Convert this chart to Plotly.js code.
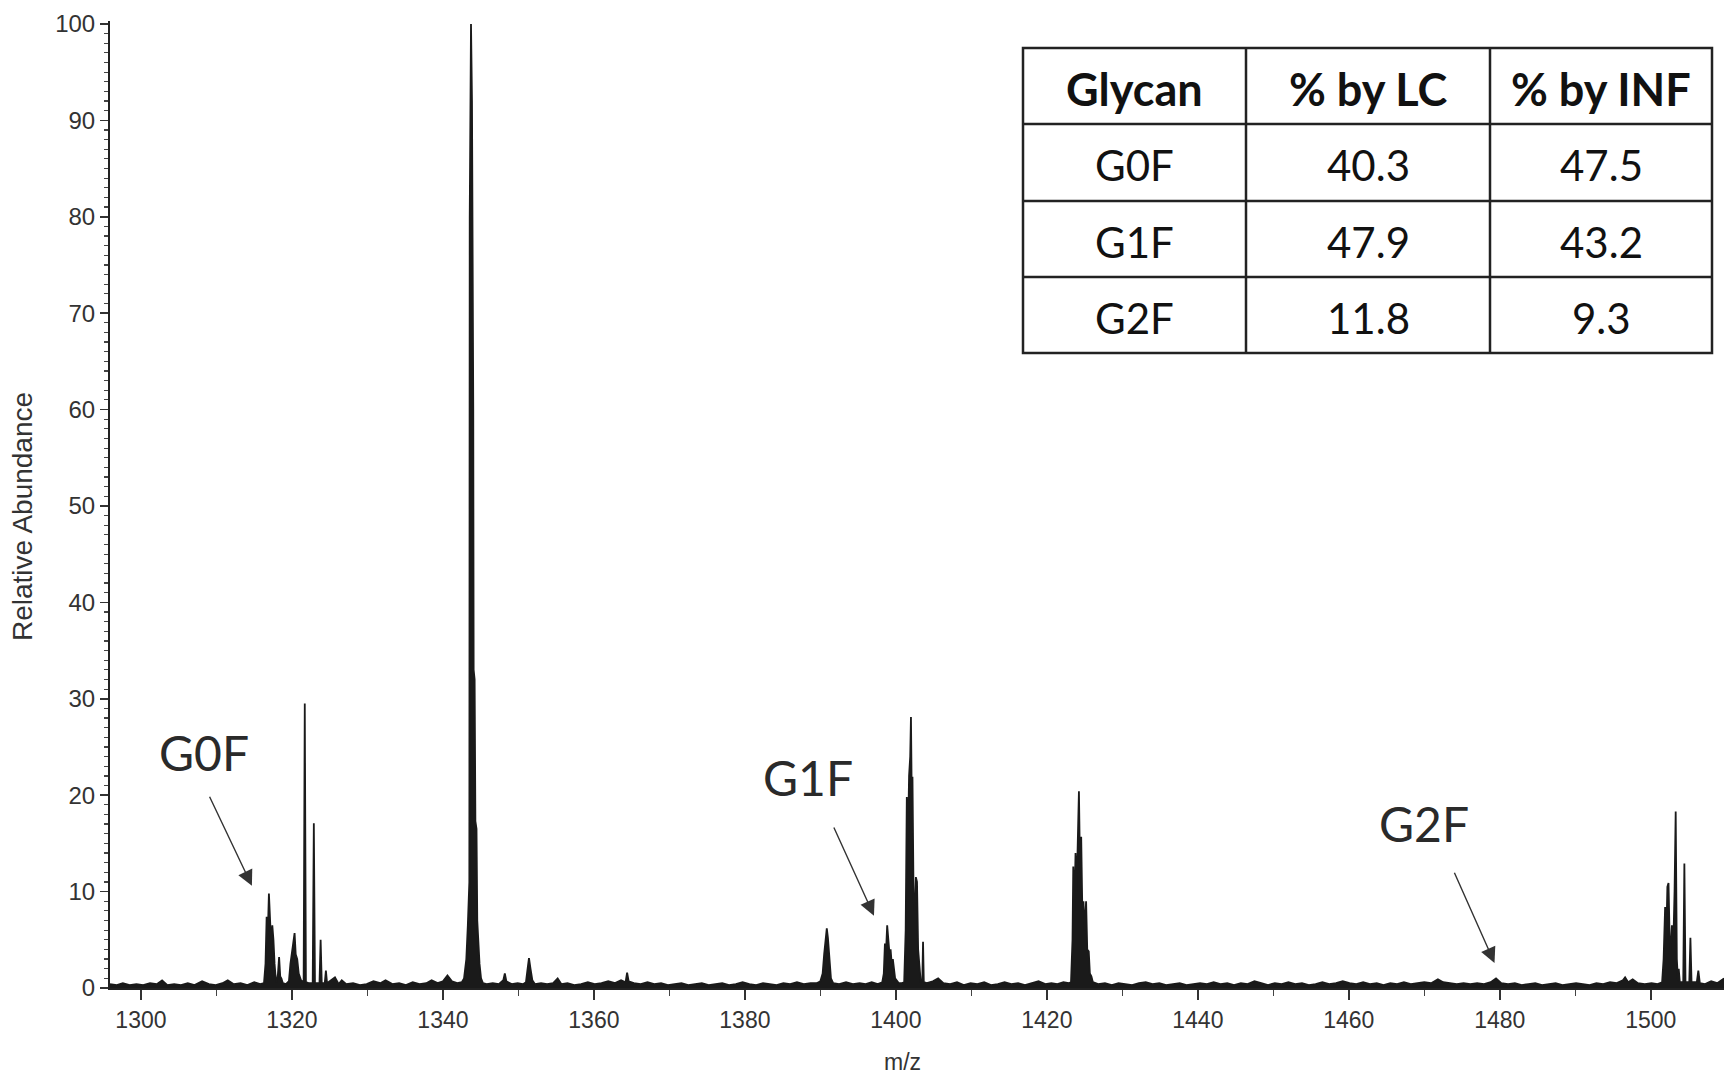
<!DOCTYPE html>
<html>
<head>
<meta charset="utf-8">
<script src="https://cdn.plot.ly/plotly-3.0.1.min.js"></script>
<style>
  html, body { margin: 0; padding: 0; background: #ffffff; }
  #chart { width: 1724px; height: 1077px; }
</style>
</head>
<body>
<div id="chart"></div>
<script>
// ---------- Spectrum data: [m/z, relative abundance] ----------
const baselineA = [[1295.9,0.4],[1296.8,0.3],[1297.6,0.5],[1298.5,0.3],[1299.4,0.4],[1300.3,0.3],[1301.2,0.5],[1302.1,0.4],[1302.8,0.8],[1303.5,0.3],[1304.4,0.4],[1305.3,0.3],[1306.2,0.5],[1307.1,0.3],[1308.1,0.7],[1309.0,0.4],[1309.9,0.3],[1310.8,0.5],[1311.5,0.8],[1312.3,0.4],[1313.2,0.5],[1314.1,0.3],[1315.0,0.6],[1315.8,0.4],[1316.3,0.5]];
const g0fCluster = [[1316.5,2.5],[1316.65,7.4],[1316.8,5.5],[1316.95,9.8],[1317.1,6.0],[1317.25,4.5],[1317.4,6.5],[1317.55,5.0],[1317.7,2.5],[1317.85,1.0],[1318.0,0.6],[1318.15,1.5],[1318.3,3.2],[1318.45,1.2],[1318.6,1.0],[1318.8,0.5],[1319.2,0.4],[1319.6,0.7],[1319.8,2.5],[1320.0,3.8],[1320.2,4.5],[1320.35,5.7],[1320.5,3.5],[1320.7,3.0],[1320.9,1.5],[1321.2,0.8],[1321.55,0.6],[1321.7,29.5],[1321.85,0.6],[1322.2,0.5],[1322.75,0.5],[1322.9,17.1],[1323.05,0.5],[1323.4,0.5],[1323.65,0.5],[1323.8,5.0],[1323.95,0.5],[1324.35,0.5],[1324.5,1.8],[1324.65,0.5],[1325.2,0.8],[1325.7,1.1],[1326.2,0.4]];
const baselineB = [[1326.6,0.8],[1327.2,0.4],[1328.1,0.5],[1329.0,0.3],[1329.9,0.4],[1330.8,0.7],[1331.7,0.5],[1332.4,0.8],[1333.3,0.4],[1334.2,0.5],[1335.1,0.3],[1336.0,0.6],[1336.9,0.4],[1337.8,0.5],[1338.5,0.8],[1339.3,0.5],[1340.0,0.7],[1340.6,1.3],[1341.2,0.7],[1341.9,0.5],[1342.5,0.6]];
const mainPeak = [[1342.8,1.0],[1343.1,3.0],[1343.3,6.5],[1343.4,10.5],[1343.5,11.0],[1343.55,80.0],[1343.62,95.0],[1343.72,100],[1343.85,92.0],[1343.95,78.0],[1344.02,60.0],[1344.07,33.0],[1344.2,32.0],[1344.3,17.3],[1344.45,16.5],[1344.55,7.0],[1344.7,4.5],[1344.85,2.5],[1345.05,1.0],[1345.3,0.5]];
const baselineC = [[1345.8,0.4],[1346.6,0.5],[1347.4,0.4],[1348.0,0.8],[1348.2,1.5],[1348.4,0.7],[1349.1,0.4],[1349.9,0.5],[1350.6,0.4],[1351.0,0.6],[1351.25,2.2],[1351.4,3.1],[1351.6,2.0],[1351.85,0.8],[1352.2,0.4],[1353.0,0.5],[1353.8,0.4],[1354.6,0.5],[1355.2,1.0],[1355.7,0.4],[1356.5,0.5],[1357.4,0.3],[1358.3,0.4],[1359.2,0.6],[1360.1,0.4],[1361.0,0.5],[1361.9,0.7],[1362.8,0.5],[1363.6,0.8],[1364.2,0.6],[1364.4,1.6],[1364.6,0.7],[1365.3,0.5],[1366.2,0.4],[1367.1,0.6],[1368.0,0.4],[1368.9,0.5],[1369.8,0.3],[1370.7,0.4],[1371.6,0.5],[1372.5,0.3],[1373.4,0.4],[1374.3,0.5],[1375.2,0.3],[1376.1,0.4],[1377.0,0.5],[1377.9,0.3],[1378.8,0.4],[1379.7,0.6],[1380.6,0.4],[1381.5,0.3],[1382.4,0.5],[1383.3,0.4],[1384.2,0.3],[1385.1,0.5],[1386.0,0.4],[1386.9,0.6],[1387.8,0.4],[1388.7,0.5],[1389.5,0.5]];
const peak1391 = [[1390.0,0.7],[1390.3,1.5],[1390.5,3.5],[1390.7,5.6],[1390.85,6.2],[1391.0,5.2],[1391.2,2.8],[1391.4,1.0],[1391.7,0.5]];
const baselineD = [[1392.5,0.4],[1393.4,0.6],[1394.3,0.4],[1395.2,0.5],[1396.0,0.4],[1396.8,0.6],[1397.6,0.4],[1398.2,0.6]];
const g1fCluster = [[1398.4,1.5],[1398.55,4.6],[1398.7,3.8],[1398.85,6.5],[1399.0,5.0],[1399.15,3.6],[1399.3,4.0],[1399.45,2.5],[1399.6,3.0],[1399.75,2.1],[1399.9,1.0],[1400.1,0.8],[1400.4,0.5],[1400.8,0.5],[1401.1,0.6],[1401.3,6.0],[1401.45,19.8],[1401.6,15.0],[1401.75,22.0],[1401.9,24.0],[1402.0,28.1],[1402.1,20.0],[1402.2,21.9],[1402.35,9.0],[1402.5,8.0],[1402.65,11.5],[1402.8,11.0],[1402.95,4.0],[1403.1,2.0],[1403.3,0.6],[1403.5,0.6],[1403.6,4.8],[1403.7,0.6],[1404.1,0.5]];
const baselineE = [[1404.9,0.7],[1405.6,1.0],[1406.3,0.5],[1407.2,0.4],[1408.1,0.6],[1409.0,0.3],[1409.9,0.5],[1410.8,0.4],[1411.7,0.6],[1412.6,0.3],[1413.5,0.4],[1414.4,0.6],[1415.3,0.4],[1416.2,0.5],[1417.1,0.3],[1418.0,0.5],[1418.9,0.7],[1419.8,0.4],[1420.6,0.5],[1421.4,0.4],[1422.2,0.6],[1422.9,0.5]];
const peak1424 = [[1423.2,0.6],[1423.4,5.0],[1423.5,12.6],[1423.65,8.0],[1423.8,14.0],[1423.95,10.0],[1424.1,16.0],[1424.25,20.4],[1424.4,12.0],[1424.55,15.7],[1424.7,8.0],[1424.85,9.0],[1425.0,6.0],[1425.2,9.0],[1425.35,4.0],[1425.55,3.8],[1425.7,1.5],[1425.9,1.2],[1426.1,0.6]];
const baselineF = [[1426.8,0.4],[1427.7,0.5],[1428.6,0.3],[1429.5,0.5],[1430.4,0.4],[1431.3,0.3],[1432.2,0.5],[1433.1,0.6],[1434.0,0.4],[1434.9,0.5],[1435.8,0.3],[1436.7,0.4],[1437.6,0.5],[1438.5,0.3],[1439.4,0.4],[1440.3,0.5],[1441.2,0.4],[1442.1,0.6],[1443.0,0.4],[1443.9,0.5],[1444.8,0.3],[1445.7,0.5],[1446.6,0.4],[1447.5,0.7],[1448.4,0.5],[1449.3,0.3],[1450.2,0.5],[1451.1,0.4],[1452.0,0.6],[1452.9,0.4],[1453.8,0.5],[1454.7,0.3],[1455.6,0.4],[1456.5,0.6],[1457.4,0.4],[1458.3,0.5],[1459.2,0.7],[1460.1,0.5],[1461.0,0.4],[1461.9,0.6],[1462.8,0.4],[1463.7,0.5],[1464.6,0.3],[1465.5,0.5],[1466.4,0.4],[1467.3,0.6],[1468.2,0.4],[1469.1,0.5],[1470.0,0.6],[1470.9,0.5],[1471.8,0.9],[1472.5,0.6],[1473.4,0.5],[1474.3,0.4],[1475.2,0.5],[1476.1,0.4],[1477.0,0.5],[1477.9,0.4],[1478.8,0.6],[1479.5,1.0],[1480.2,0.5],[1481.1,0.4],[1482.0,0.5],[1482.9,0.3],[1483.8,0.4],[1484.7,0.5],[1485.6,0.3],[1486.5,0.4],[1487.4,0.5],[1488.3,0.3],[1489.2,0.4],[1490.1,0.5],[1491.0,0.4],[1491.9,0.3],[1492.8,0.5],[1493.7,0.4],[1494.6,0.6],[1495.5,0.5],[1496.3,0.8],[1496.6,1.1],[1497.0,0.6],[1497.6,0.9],[1498.3,0.5],[1499.2,0.4],[1500.1,0.5],[1500.9,0.4]];
const peak1503 = [[1501.5,0.6],[1501.7,3.0],[1501.9,8.4],[1502.05,5.0],[1502.2,10.5],[1502.35,10.9],[1502.5,5.0],[1502.65,4.0],[1502.8,6.5],[1503.0,5.0],[1503.15,10.0],[1503.3,18.3],[1503.45,3.0],[1503.6,0.8],[1503.7,2.0],[1503.85,0.6],[1504.3,0.6],[1504.45,12.9],[1504.6,0.6],[1505.1,0.6],[1505.25,5.2],[1505.4,0.6],[1506.1,0.6],[1506.3,1.8],[1506.5,0.5],[1507.2,0.4],[1508.0,0.7],[1508.8,0.5],[1509.7,1.0]];

// ---------- Inset table ----------
const tableHeader = ['Glycan', '% by LC', '% by INF'];
const glycans = ['G0F', 'G1F', 'G2F'];
const pctByLC = [40.3, 47.9, 11.8];
const pctByINF = [47.5, 43.2, 9.3];

// ---------- Glycan arrow annotations (label position, arrow start, arrow tip) ----------
const peakLabels = ['G0F', 'G1F', 'G2F'];
const labelMz = [1308.3, 1388.4, 1470.0];
const labelAb = [24.4, 21.8, 17.1];
const arrowStartMz = [1309.0, 1391.7, 1473.9];
const arrowStartAb = [20.0, 16.8, 12.1];
const arrowTipMz = [1314.7, 1397.1, 1479.3];
const arrowTipAb = [10.6, 7.5, 2.6];

// ---------- Axis ----------
const xRange = [1295.9, 1509.7];
const yRange = [0, 100.3];
const xTitle = 'm/z';
const yTitle = 'Relative Abundance';

const spectrum = [].concat(baselineA, g0fCluster, baselineB, mainPeak, baselineC,
  peak1391, baselineD, g1fCluster, baselineE, peak1424, baselineF, peak1503);

// ---------- Layout geometry (pixels in the 1724x1077 page) ----------
const W = 1724, H = 1077;
const M = { l: 110, r: 0, t: 21, b: 89 };
const plotW = W - M.l - M.r, plotH = H - M.t - M.b;
const px2x = px => (px - M.l) / plotW;
const px2y = py => (H - M.b - py) / plotH;
const tblCols = [1023, 1246, 1490, 1712];
const tblRows = [48, 124, 201, 277, 353];

const axisFont = "'Liberation Sans', Arial, sans-serif";
const tableFont = "Lato, 'Noto Sans', 'Open Sans', sans-serif";
const ink = '#1a1a1a';

const traces = [{
  type: 'scatter',
  mode: 'lines',
  x: spectrum.map(p => p[0]),
  y: spectrum.map(p => p[1]),
  line: { color: ink, width: 1.8 },
  fill: 'tozeroy',
  fillcolor: ink,
  hoverinfo: 'skip'
}];

const shapes = [];
const lineStyle = { color: '#222', width: 2.5 };
shapes.push({ type: 'rect', xref: 'paper', yref: 'paper',
  x0: px2x(tblCols[0]), x1: px2x(tblCols[3]), y0: px2y(tblRows[4]), y1: px2y(tblRows[0]),
  line: lineStyle, fillcolor: '#ffffff', layer: 'above' });
for (let c = 1; c < tblCols.length - 1; c++) {
  shapes.push({ type: 'line', xref: 'paper', yref: 'paper',
    x0: px2x(tblCols[c]), x1: px2x(tblCols[c]), y0: px2y(tblRows[4]), y1: px2y(tblRows[0]),
    line: lineStyle, layer: 'above' });
}
for (let r = 1; r < tblRows.length - 1; r++) {
  shapes.push({ type: 'line', xref: 'paper', yref: 'paper',
    x0: px2x(tblCols[0]), x1: px2x(tblCols[3]), y0: px2y(tblRows[r]), y1: px2y(tblRows[r]),
    line: lineStyle, layer: 'above' });
}

const annotations = [];
const tableRowsText = [tableHeader].concat(glycans.map((g, i) =>
  [g, pctByLC[i].toFixed(1), pctByINF[i].toFixed(1)]));
tableRowsText.forEach((row, r) => {
  row.forEach((txt, c) => {
    annotations.push({
      xref: 'paper', yref: 'paper',
      x: px2x((tblCols[c] + tblCols[c + 1]) / 2),
      y: px2y((tblRows[r] + tblRows[r + 1]) / 2 + 3),
      xanchor: 'center', yanchor: 'middle',
      text: r === 0 ? '<b>' + txt + '</b>' : txt,
      showarrow: false,
      font: { family: tableFont, size: r === 0 ? 45 : 42, color: '#111' }
    });
  });
});

for (let i = 0; i < peakLabels.length; i++) {
  annotations.push({
    x: labelMz[i], y: labelAb[i], xref: 'x', yref: 'y',
    text: peakLabels[i], showarrow: false,
    font: { family: tableFont, size: 48, color: '#2a2a2a' }
  });
  annotations.push({
    x: arrowTipMz[i], y: arrowTipAb[i], xref: 'x', yref: 'y',
    ax: arrowStartMz[i], ay: arrowStartAb[i], axref: 'x', ayref: 'y',
    text: '', showarrow: true, arrowhead: 2, arrowsize: 2.2, arrowwidth: 1.4,
    arrowcolor: '#333', standoff: 0, startstandoff: 0
  });
}

// axis titles placed as in the original figure
annotations.push({ xref: 'paper', yref: 'paper', x: px2x(902), y: px2y(1062),
  xanchor: 'center', yanchor: 'middle', text: xTitle, showarrow: false,
  font: { family: axisFont, size: 23, color: '#333' } });
annotations.push({ xref: 'paper', yref: 'paper', x: px2x(22), y: px2y(517),
  xanchor: 'center', yanchor: 'middle', text: yTitle, textangle: -90, showarrow: false,
  font: { family: axisFont, size: 28, color: '#333' } });

const layout = {
  width: W,
  height: H,
  margin: M,
  paper_bgcolor: '#ffffff',
  plot_bgcolor: '#ffffff',
  showlegend: false,
  font: { family: axisFont, color: '#333' },
  xaxis: {
    range: xRange,
    tick0: 1300, dtick: 20,
    ticks: 'outside', ticklen: 10, tickwidth: 1.6, tickcolor: '#333',
    showline: true, linecolor: '#222', linewidth: 2,
    showgrid: false, zeroline: false,
    minor: { tick0: 1300, dtick: 10, ticks: 'outside', ticklen: 6, tickwidth: 1.3, tickcolor: '#444', showgrid: false },
    tickfont: { family: axisFont, size: 23, color: '#333' }
  },
  yaxis: {
    range: yRange,
    tick0: 0, dtick: 10,
    ticks: 'outside', ticklen: 8, tickwidth: 1.6, tickcolor: '#333',
    showline: true, linecolor: '#222', linewidth: 2,
    showgrid: false, zeroline: false,
    minor: { dtick: 1, ticks: 'outside', ticklen: 4, tickwidth: 1.2, tickcolor: '#444', showgrid: false },
    tickfont: { family: axisFont, size: 24, color: '#333' }
  },
  shapes: shapes,
  annotations: annotations
};

Plotly.newPlot('chart', traces, layout, { displayModeBar: false, staticPlot: true });
</script>
</body>
</html>
